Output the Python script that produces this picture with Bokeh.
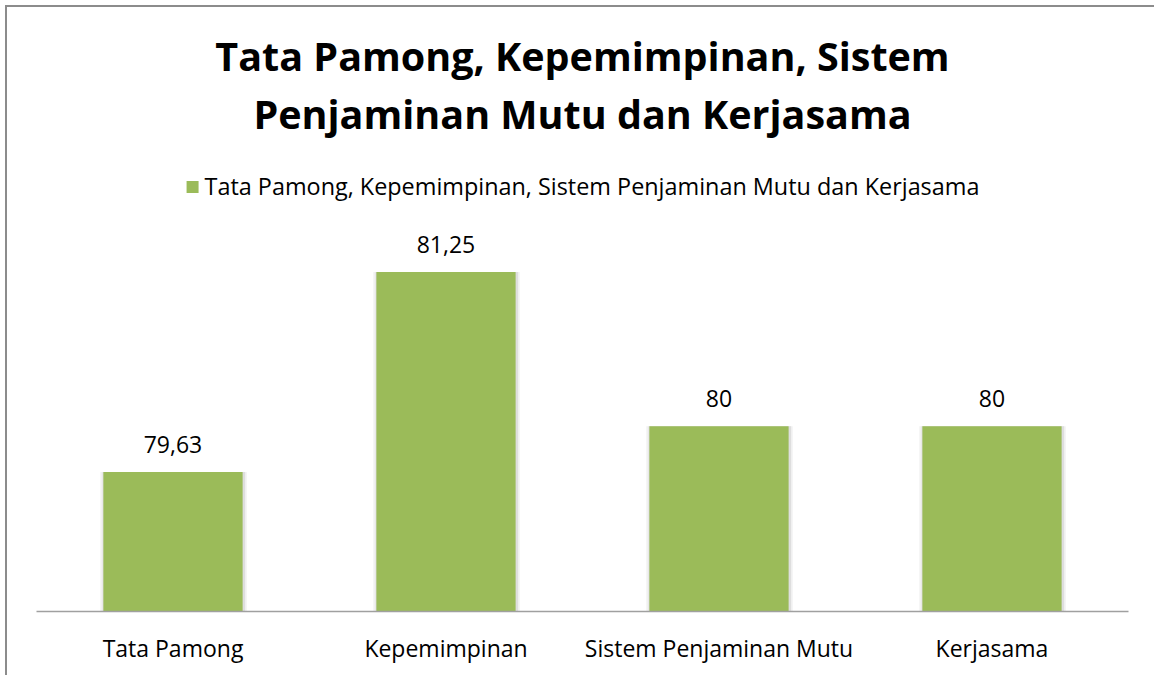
from bokeh.plotting import figure
from bokeh.models import ColumnDataSource, LabelSet, Label, Legend, LegendItem, Range1d, FactorRange
from bokeh.transform import dodge
from bokeh.core.properties import value
from bokeh.embed import file_html
from bokeh.resources import INLINE

categories = ["Tata Pamong", "Kepemimpinan", "Sistem Penjaminan Mutu", "Kerjasama"]
values = [79.63, 81.25, 80, 80]
value_labels = ["79,63", "81,25", "80", "80"]
series_name = "Tata Pamong, Kepemimpinan, Sistem Penjaminan Mutu dan Kerjasama"
title_lines = ["Tata Pamong, Kepemimpinan, Sistem", "Penjaminan Mutu dan Kerjasama"]
y_min = 78.5
y_top = 83.45   # value axis reaches up to the top of the chart box (axis hidden)

FONT = "Open Sans"
BAR = "#9BBB59"

W, H = 1154, 675
ML, MR, MB = 36, 26, 64
FW, FH = W - ML - MR, H - MB

src = ColumnDataSource(dict(cat=categories, v=values, lab=value_labels))

p = figure(x_range=FactorRange(factors=categories, range_padding=0),
           y_range=Range1d(y_min, y_top),
           width=W, height=H,
           output_backend="svg", toolbar_location=None,
           min_border_left=ML, min_border_right=MR, min_border_bottom=MB,
           min_border_top=0)
p.title.visible = False
p.border_fill_alpha = 0
p.background_fill_alpha = 0
p.styles = {"box-shadow": "inset 5px 5px 0 0 #ffffff, inset 7px 7px 0 0 #8c8c8c"}

# soft shadow around the bars
p.vbar(x=dodge("cat", 0.002, range=p.x_range), top="v", bottom=y_min, width=0.536,
       source=src, fill_color="#f1f1f1", line_color=None)
p.vbar(x=dodge("cat", 0.003, range=p.x_range), top="v", bottom=y_min, width=0.522,
       source=src, fill_color="#dedede", line_color=None)
bars = p.vbar(x="cat", top="v", bottom=y_min, width=0.51, source=src,
              fill_color=BAR, line_color=None)

labels = LabelSet(x="cat", y="v", text="lab", source=src, text_align="center",
                  text_baseline="alphabetic", y_offset=19,
                  text_font=value(FONT), text_font_size="23px", text_color="#000000")
p.add_layout(labels)

for i, line in enumerate(title_lines):
    p.add_layout(Label(x=FW / 2, y=FH - 55 - 58 * i, x_units="screen", y_units="screen",
                       text=line, text_align="center", text_baseline="alphabetic",
                       text_font=FONT, text_font_style="bold", text_font_size="39.5px",
                       text_color="#000000"))

legend = Legend(items=[LegendItem(label=series_name, renderers=[bars])],
                location="top_center", orientation="horizontal",
                glyph_width=15, glyph_height=15, label_standoff=5,
                label_text_font=FONT, label_text_font_size="23.4px",
                label_text_color="#000000", border_line_color=None,
                background_fill_alpha=0, padding=0, margin=170, spacing=0)
p.add_layout(legend, "center")

p.xaxis.axis_line_color = "#a0a0a0"
p.xaxis.axis_line_width = 1.5
p.xaxis.major_tick_line_color = None
p.xaxis.minor_tick_line_color = None
p.xaxis.major_label_text_font = FONT
p.xaxis.major_label_text_font_size = "23px"
p.xaxis.major_label_text_color = "#000000"
p.xaxis.major_label_standoff = 14
p.yaxis.visible = False
p.xgrid.visible = False
p.ygrid.visible = False
p.outline_line_color = None

open("out.html", "w").write(file_html(p, INLINE))
